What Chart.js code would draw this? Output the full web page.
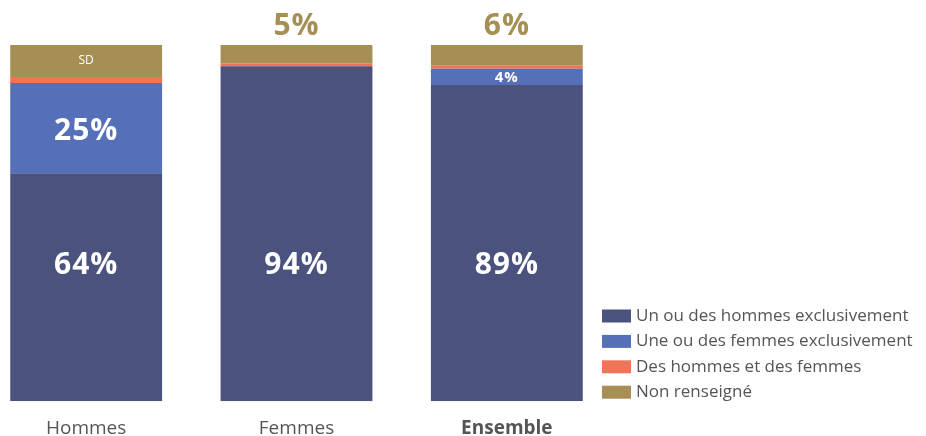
<!DOCTYPE html>
<html>
<head>
<meta charset="utf-8">
<script src="https://cdn.jsdelivr.net/npm/chart.js@4/dist/chart.umd.min.js"></script>
<style>
  html, body { margin: 0; padding: 0; background: #fff; overflow: hidden; }
  #wrap { position: relative; width: 926px; height: 436px; }
  #chart { position: absolute; left: -19px; top: 0; }
</style>
</head>
<body>
<div id="wrap"><canvas id="chart" width="945" height="436"></canvas></div>
<script>
// Data
const categories = ['Hommes', 'Femmes', 'Ensemble'];
const seriesNames = ['Un ou des hommes exclusivement', 'Une ou des femmes exclusivement', 'Des hommes et des femmes', 'Non renseigné'];
const hommesExcl = [64, 94, 88.8];
const femmesExcl = [25.3, 0, 4.5];
const mixtes = [1.7, 0.9, 0.9];
const nonRens = [9, 5.1, 5.8];
// labels printed on each segment ('' = none)
const hommesExclLabels = ['64%', '94%', '89%'];
const femmesExclLabels = ['25%', '', '4%'];
const nonRensLabels = ['SD', '5%', '6%'];

const colors = ['#4a527d', '#5570b8', '#f07457', '#a68f54'];
const FONT = '"Open Sans", Lato, sans-serif';

// segment labels
const segLabels = {
  id: 'segLabels',
  afterDatasetsDraw(chart) {
    const ctx = chart.ctx;
    const yScale = chart.scales.y;
    ctx.save();
    ctx.textAlign = 'center';
    ctx.textBaseline = 'middle';
    [[0, hommesExclLabels], [1, femmesExclLabels], [3, nonRensLabels]].forEach(([di, labels]) => {
      const meta = chart.getDatasetMeta(di);
      meta.data.forEach((bar, i) => {
        const txt = labels[i];
        if (!txt) return;
        const h = Math.abs(bar.base - bar.y);
        const mid = (bar.y + bar.base) / 2;
        ctx.letterSpacing = '1px';
        if (di === 3) {
          if (txt === 'SD') {
            ctx.letterSpacing = '0px';
            ctx.fillStyle = '#ffffff';
            ctx.font = '12px ' + FONT;
            ctx.fillText(txt, bar.x, mid);
          } else {
            ctx.fillStyle = colors[3];
            ctx.font = 'bold 30px ' + FONT;
            ctx.fillText(txt, bar.x, bar.y - 19);
          }
        } else if (di === 0) {
          // main labels sit at the same height in each bar
          ctx.fillStyle = '#ffffff';
          ctx.font = 'bold 30px ' + FONT;
          ctx.fillText(txt, bar.x, yScale.getPixelForValue(38));
        } else {
          ctx.fillStyle = '#ffffff';
          ctx.font = (h < 30 ? 'bold 15px ' : 'bold 30px ') + FONT;
          ctx.fillText(txt, bar.x, mid + (h < 30 ? 1 : 3));
        }
      });
    });
    ctx.restore();
  }
};

// legend at bottom right
const sideLegend = {
  id: 'sideLegend',
  afterDraw(chart) {
    const ctx = chart.ctx;
    ctx.save();
    ctx.textBaseline = 'middle';
    ctx.textAlign = 'left';
    ctx.font = '17px ' + FONT;
    chart.data.datasets.forEach((ds, i) => {
      const y = 316 + i * 25.4;
      ctx.fillStyle = ds.backgroundColor;
      ctx.fillRect(621, y - 6.5, 29, 13);
      ctx.fillStyle = '#555555';
      ctx.fillText(ds.label, 655, y);
    });
    ctx.restore();
  }
};

const series = [hommesExcl, femmesExcl, mixtes, nonRens];

new Chart(document.getElementById('chart').getContext('2d'), {
  type: 'bar',
  data: {
    labels: categories,
    datasets: series.map((vals, i) => ({
      label: seriesNames[i],
      data: vals,
      backgroundColor: colors[i],
      borderWidth: 0,
      barPercentage: 0.722,
      categoryPercentage: 1
    }))
  },
  options: {
    responsive: false,
    animation: false,
    devicePixelRatio: 1,
    layout: { padding: { left: 0, right: 314, top: 45, bottom: -12 } },
    plugins: { legend: { display: false }, tooltip: { enabled: false } },
    scales: {
      x: {
        stacked: true,
        grid: { display: false },
        border: { display: false },
        ticks: {
          padding: 8,
          color: '#555555',
          font: c => ({ family: FONT, size: 19, weight: c.index === 2 ? 'bold' : 'normal' })
        }
      },
      y: { stacked: true, display: false, min: 0, max: 100 }
    }
  },
  plugins: [segLabels, sideLegend]
});
</script>
</body>
</html>
